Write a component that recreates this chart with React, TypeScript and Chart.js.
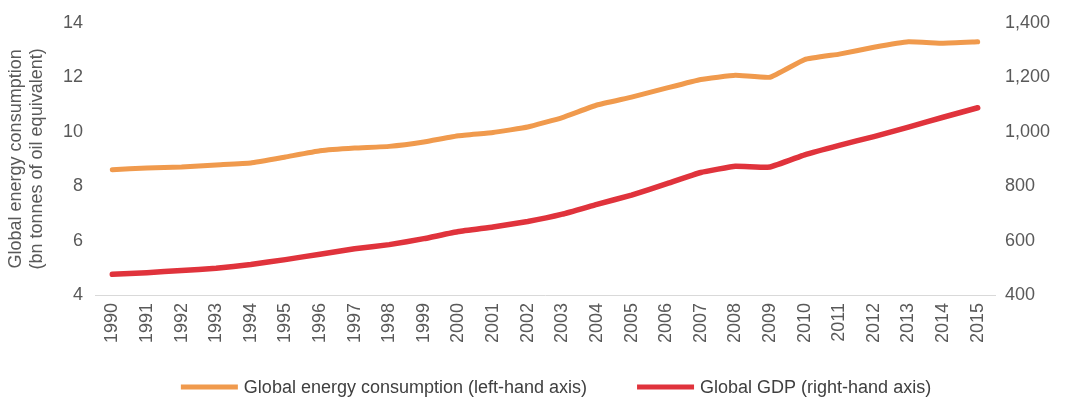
import React, { useEffect, useRef } from "react";
import { Chart, registerables } from "chart.js";

Chart.register(...registerables);

const years = [
  "1990", "1991", "1992", "1993", "1994", "1995", "1996", "1997", "1998", "1999",
  "2000", "2001", "2002", "2003", "2004", "2005", "2006", "2007", "2008", "2009",
  "2010", "2011", "2012", "2013", "2014", "2015",
];

// bn tonnes of oil equivalent (left axis)
const energyConsumption = [
  8.6, 8.67, 8.7, 8.78, 8.85, 9.07, 9.3, 9.4, 9.46, 9.62,
  9.85, 9.97, 10.17, 10.52, 10.98, 11.27, 11.6, 11.92, 12.07, 12.0,
  12.65, 12.85, 13.1, 13.3, 13.25, 13.3,
];

// global GDP (right axis)
const globalGdp = [
  476, 482, 490, 498, 512, 530, 550, 570, 585, 607,
  633, 650, 670, 697, 733, 767, 808, 850, 873, 870,
  915, 950, 982, 1017, 1053, 1088,
];

const seriesNames = [
  "Global energy consumption (left-hand axis)",
  "Global GDP (right-hand axis)",
];

const leftTicks = { min: 4, max: 14, step: 2 };
const rightTicks = { min: 400, max: 1400, step: 200 };

const FONT = "'Liberation Sans', Arial, sans-serif";
const FONT_SIZE = 18;
const ORANGE = "#F09A4D";
const RED = "#E0333C";
const TEXT = "#595959";

// Legend drawn below the axis labels: a thin swatch followed by the series name.
const bottomLegend = {
  id: "bottomLegend",
  afterDraw(chart: any) {
    const { ctx, chartArea } = chart;
    const swatchW = 57;
    const swatchH = 5;
    const textGap = 6;
    const itemGap = 50;
    const y = chart.height - 14;
    ctx.save();
    ctx.font = `${FONT_SIZE}px ${FONT}`;
    ctx.textBaseline = "middle";
    ctx.textAlign = "left";
    const items = chart.data.datasets.map((ds: any) => ({
      label: ds.label as string,
      color: ds.borderColor as string,
      width: swatchW + textGap + ctx.measureText(ds.label).width,
    }));
    const total =
      items.reduce((s: number, it: any) => s + it.width, 0) + itemGap * (items.length - 1);
    let x = (chartArea.left + chartArea.right) / 2 + 11 - total / 2;
    for (const it of items) {
      ctx.fillStyle = it.color;
      ctx.fillRect(x, y - swatchH / 2, swatchW, swatchH);
      ctx.fillStyle = "#404040";
      ctx.fillText(it.label, x + swatchW + textGap, y + 1);
      x += it.width + itemGap;
    }
    ctx.restore();
  },
};

export default function App() {
  const canvasRef = useRef<HTMLCanvasElement | null>(null);

  useEffect(() => {
    document.body.style.margin = "0";
    const canvas = canvasRef.current;
    if (!canvas) return;
    const chart = new Chart(canvas, {
      type: "line",
      data: {
        labels: years,
        datasets: [
          {
            label: seriesNames[0],
            data: energyConsumption,
            borderColor: ORANGE,
            backgroundColor: ORANGE,
            borderWidth: 5,
            pointRadius: 0,
            tension: 0.1,
            borderCapStyle: "round",
            borderJoinStyle: "round",
            yAxisID: "y",
          },
          {
            label: seriesNames[1],
            data: globalGdp,
            borderColor: RED,
            backgroundColor: RED,
            borderWidth: 5.5,
            pointRadius: 0,
            tension: 0.1,
            borderCapStyle: "round",
            borderJoinStyle: "round",
            yAxisID: "y1",
          },
        ],
      },
      plugins: [bottomLegend],
      options: {
        responsive: false,
        animation: false,
        layout: { padding: { top: 14, left: 0, right: 0, bottom: 46 } },
        plugins: {
          tooltip: { enabled: false },
          legend: { display: false },
        },
        scales: {
          x: {
            offset: true,
            grid: { display: false, drawTicks: false },
            border: { display: true, color: "#D9D9D9", width: 1 },
            ticks: {
              minRotation: 90,
              maxRotation: 90,
              autoSkip: false,
              padding: 8,
              color: TEXT,
              font: { family: FONT, size: FONT_SIZE },
            },
            afterFit: (scale: any) => {
              scale.height = 60;
            },
          },
          y: {
            position: "left",
            min: leftTicks.min,
            max: leftTicks.max,
            grid: { display: false, drawTicks: false },
            border: { display: false },
            ticks: {
              stepSize: leftTicks.step,
              padding: 12,
              color: TEXT,
              font: { family: FONT, size: FONT_SIZE },
            },
            title: {
              display: true,
              text: ["Global energy consumption", "(bn tonnes of oil equivalent)"],
              color: TEXT,
              font: { family: FONT, size: FONT_SIZE, lineHeight: 1.15 },
              padding: { top: 6, bottom: 4 },
            },
            afterFit: (scale: any) => {
              scale.width = 95;
            },
          },
          y1: {
            position: "right",
            min: rightTicks.min,
            max: rightTicks.max,
            grid: { display: false, drawTicks: false },
            border: { display: false },
            ticks: {
              stepSize: rightTicks.step,
              padding: 10,
              color: TEXT,
              font: { family: FONT, size: FONT_SIZE },
              callback: (v: any) => Number(v).toLocaleString("en-US"),
            },
            afterFit: (scale: any) => {
              scale.width = 70;
            },
          },
        },
      },
    });
    return () => chart.destroy();
  }, []);

  return (
    <div style={{ width: 1065, height: 401, background: "#fff" }}>
      <canvas ref={canvasRef} width={1065} height={401} />
    </div>
  );
}
